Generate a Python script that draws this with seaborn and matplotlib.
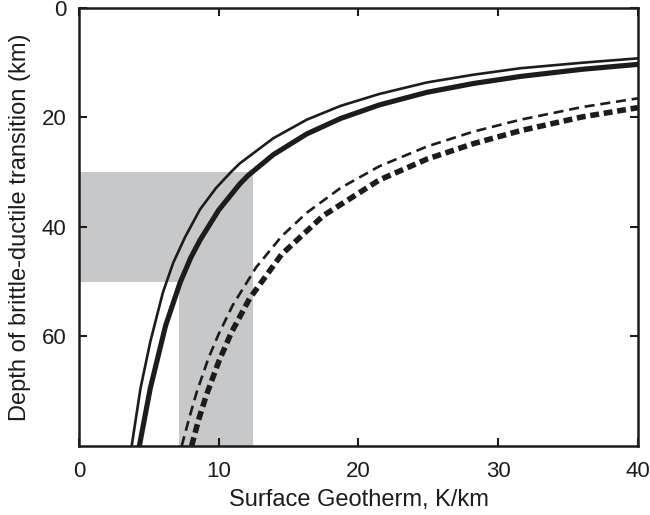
import numpy as np
import pandas as pd
import seaborn as sns
import matplotlib.pyplot as plt

# surface geotherm (K/km) vs depth of brittle-ductile transition (km)
thin_solid_g = [3.77, 4.4, 5.1, 6.0, 6.75, 7.6, 8.66, 9.8, 10.9, 11.5, 13.9, 16.3, 18.7, 21.5, 24.9, 28.2, 31.6, 36.0, 40.0]
thin_solid_d = [80, 69.5, 61, 52, 46.5, 41.8, 36.8, 32.9, 29.9, 28.4, 23.8, 20.4, 17.9, 15.7, 13.6, 12.2, 11.0, 10.0, 9.2]

thick_solid_g = [4.32, 5.1, 6.2, 7.23, 8.0, 8.66, 10.0, 11.52, 12.1, 13.9, 16.3, 18.7, 21.5, 24.9, 28.2, 31.6, 36.0, 40.0]
thick_solid_d = [80, 69.5, 58, 50.2, 45.6, 42.4, 36.9, 32.1, 30.6, 26.8, 23.0, 20.2, 17.7, 15.4, 13.8, 12.5, 11.2, 10.3]

thin_dash_g = [7.35, 7.9, 8.42, 9.26, 9.97, 11.0, 12.67, 14.5, 16.3, 18.7, 21.5, 24.9, 28.2, 31.6, 36.0, 40.0]
thin_dash_d = [80, 74.8, 70.2, 64, 59.7, 54.3, 47.4, 41.7, 37.4, 32.9, 28.9, 25.3, 22.6, 20.4, 18.1, 16.5]

thick_dash_g = [8.06, 8.55, 9.09, 10.0, 10.9, 12.2, 14.5, 17.5, 21.5, 24.9, 28.2, 31.6, 36.0, 40.0]
thick_dash_d = [80, 75.3, 70.9, 64.6, 59.3, 53.1, 45.0, 37.9, 31.4, 27.6, 24.8, 22.4, 19.9, 18.2]

# shaded region: horizontal band + vertical band
band_h_x = [0, 12.45]
band_h_d = [30, 50]
band_v_x = [7.16, 12.45]
band_v_d = [50, 80]

sns.set_style("ticks")
plt.rcParams['font.family'] = ['Liberation Sans', 'DejaVu Sans']

fig = plt.figure(figsize=(6.5, 5.15), dpi=100)
ax = fig.add_axes([0.1215, 0.134, 0.86, 0.8505])

grey = '#c7c8ca'
ax.fill_between(band_h_x, band_h_d[0], band_h_d[1], color=grey, lw=0, zorder=0)
ax.fill_between(band_v_x, band_v_d[0], band_v_d[1], color=grey, lw=0, zorder=0)

ink = '#1c1c1c'
curves = [
    (thin_solid_g, thin_solid_d, 1.9, '-'),
    (thick_solid_g, thick_solid_d, 3.7, '-'),
    (thin_dash_g, thin_dash_d, 1.9, (0, (3.8, 2.2))),
    (thick_dash_g, thick_dash_d, 4.0, (0, (1.6, 0.85))),
]
for g, d, lw, ls in curves:
    df = pd.DataFrame({'g': g, 'd': d})
    sns.lineplot(data=df, x='g', y='d', sort=False, color=ink, lw=lw,
                 linestyle=ls, ax=ax, zorder=3)

ax.set_xlim(0, 40)
ax.set_ylim(80, 0)
ax.set_xticks([0, 10, 20, 30, 40])
ax.set_yticks([0, 20, 40, 60])
ax.tick_params(direction='in', length=6, width=1.5, labelsize=16,
               top=True, right=True, colors=ink)
ax.tick_params(axis='x', pad=11)
ax.tick_params(axis='y', pad=9)
for s in ax.spines.values():
    s.set_linewidth(1.8)
    s.set_color(ink)

ax.set_xlabel('Surface Geotherm, K/km', fontsize=17, color=ink, labelpad=5)
ax.set_ylabel('Depth of brittle-ductile transition (km)', fontsize=17, color=ink, labelpad=8)

fig.savefig('out.png', dpi=100)
